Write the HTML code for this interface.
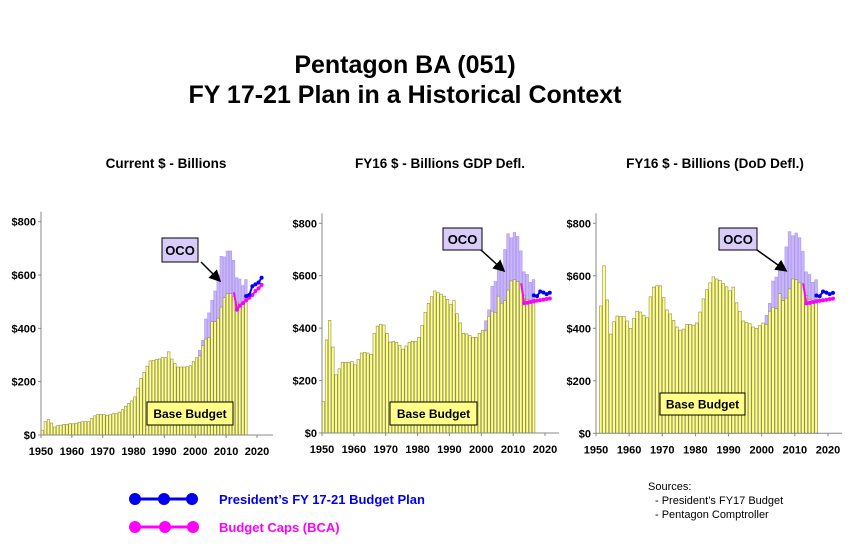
<!DOCTYPE html>
<html><head><meta charset="utf-8"><style>
html,body{margin:0;padding:0;background:#fff;}
body{width:855px;height:549px;overflow:hidden;font-family:"Liberation Sans",sans-serif;}
</style></head><body>
<svg width="855" height="549" viewBox="0 0 855 549" xmlns="http://www.w3.org/2000/svg" id="chart">
<defs><marker id="ah" markerWidth="8" markerHeight="8" refX="6" refY="4" orient="auto"><path d="M0,0 L8,4 L0,8 z" fill="#000"/></marker></defs>
<text x="405" y="73" text-anchor="middle" font-size="25" font-weight="bold">Pentagon BA (051)</text>
<text x="405" y="103" text-anchor="middle" font-size="25" font-weight="bold">FY 17-21 Plan in a Historical Context</text>
<g id="panels"></g>
<g>
<line x1="135" y1="499" x2="192" y2="499" stroke="#0000ee" stroke-width="3"/>
<circle cx="135" cy="499" r="6" fill="#0000ee"/><circle cx="164" cy="499" r="6" fill="#0000ee"/><circle cx="192" cy="499" r="6" fill="#0000ee"/>
<text x="219" y="504" font-size="13" font-weight="bold" fill="#0000ee">President’s FY 17-21 Budget Plan</text>
<line x1="135" y1="527" x2="193" y2="527" stroke="#ff00ff" stroke-width="3"/>
<circle cx="135" cy="527" r="6" fill="#ff00ff"/><circle cx="165" cy="527" r="6" fill="#ff00ff"/><circle cx="193" cy="527" r="6" fill="#ff00ff"/>
<text x="219" y="532" font-size="13" font-weight="bold" fill="#ff00ff">Budget Caps (BCA)</text>
</g>
<g font-size="11">
<text x="648" y="490">Sources:</text>
<text x="655" y="504">- President’s FY17 Budget</text>
<text x="655" y="518">- Pentagon Comptroller</text>
</g>
</svg>
<script>
const years = [];for(let y=1950;y<=2016;y++)years.push(y);
const ocoYears = [2001,2002,2003,2004,2005,2006,2007,2008,2009,2010,2011,2012,2013,2014,2015,2016];
const pbYears = [2016,2017,2018,2019,2020,2021];
const bcaYears = [2012,2013,2014,2015,2016,2017,2018,2019,2020,2021];
const xTicks = [1950,1960,1970,1980,1990,2000,2010,2020];
const yTicks = [0,200,400,600,800];
const yTickLabels = ["$0","$200","$400","$600","$800"];
const subtitles = ["Current $ - Billions","FY16 $ - Billions  GDP Defl.","FY16 $ - Billions (DoD Defl.)"];

const baseCurrent = [18,50,58,45,30,35,37,40,40,43,42,44,48,50,50,50,62,72,77,78,77,73,76,80,80,86,95,108,118,128,143,176,212,235,258,278,280,283,285,290,290,312,285,268,255,255,255,256,260,275,290,297,335,360,365,425,425,438,480,515,530,530,520,495,495,497,510];
const totalCurrent = [318,355,435,458,505,540,600,670,668,690,690,655,590,585,560,583];
const pbCurrent = [521,525,558,565,572,590];
const bcaCurrent = [535,470,485,495,505,515,525,540,550,563];

const baseGdp = [120,355,430,328,222,245,270,270,270,272,260,280,305,308,305,300,380,408,415,412,380,347,350,346,335,320,332,346,350,350,365,410,460,495,520,542,535,530,522,510,490,505,455,420,380,378,372,365,365,380,392,390,445,465,460,522,495,505,545,580,585,578,570,525,510,505,510];
const totalGdp = [428,470,560,578,620,640,700,760,745,765,750,695,615,605,575,585];
const pbGdp = [525,522,540,536,530,535];
const bcaGdp = [570,495,497,500,502,505,507,509,511,513];

const baseDod = [0,485,638,508,378,425,447,445,445,428,400,437,465,462,450,440,520,557,562,562,517,470,455,430,405,393,397,415,415,412,420,462,512,547,573,596,588,583,570,558,543,557,497,465,428,422,418,405,400,410,420,415,465,480,475,532,505,515,550,588,585,575,570,525,510,505,510];
const totalDod = [450,495,580,595,630,635,710,768,752,763,745,693,615,605,575,585];
const pbDod = [525,522,540,536,530,535];
const bcaDod = [570,495,497,500,502,505,507,509,511,513];

const NS="http://www.w3.org/2000/svg";
function mk(tag,attrs,parent){const e=document.createElementNS(NS,tag);for(const k in attrs)e.setAttribute(k,attrs[k]);parent.appendChild(e);return e;}
const panelsG=document.getElementById('panels');
const panels=[
 {ax:41,y0:435,y800:221.7,x1950:41,x2020:257,xEnd:273,sub:166,base:baseCurrent,tot:totalCurrent,pb:pbCurrent,bca:bcaCurrent,oco:[162,238,36,24,201,262,219,280],bb:[147,402,86,23]},
 {ax:322,y0:433,y800:223.3,x1950:322,x2020:545,xEnd:559,sub:440,base:baseGdp,tot:totalGdp,pb:pbGdp,bca:bcaGdp,oco:[443,228,39,22,481,250,503,270],bb:[390,402,87,23]},
 {ax:596,y0:433.3,y800:223.3,x1950:596,x2020:828,xEnd:842,sub:715,base:baseDod,tot:totalDod,pb:pbDod,bca:bcaDod,oco:[719,228,38,22,757,250,785,270],bb:[660,393,85,22]}
];
panels.forEach((p,pi)=>{
 const g=mk('g',{},panelsG);
 
 
 const sx=yr=>p.x1950+(yr-1950)*(p.x2020-p.x1950)/70;
 const sy=v=>p.y0-v*(p.y0-p.y800)/800;
 const bw=(p.x2020-p.x1950)/70;
 const st=mk('text',{x:p.sub,y:168,'text-anchor':'middle','font-size':'13.5','font-weight':'bold'},g);st.textContent=subtitles[pi];
 
 
 // oco bars
 ocoYears.forEach((yr,i)=>{
  const x=sx(yr)+ (yr-1950>=0?0:0);
  const r=mk('rect',{x:x,y:sy(p.tot[i]),width:bw-0.6,height:sy(0)-sy(p.tot[i]),fill:'#c9b6fa',stroke:'#a994ee','stroke-width':0.6},g);
  
  
 });
 years.forEach((yr,i)=>{
  const v=p.base[i];if(!v)return;
  const r=mk('rect',{x:sx(yr),y:sy(v),width:bw-0.6,height:sy(0)-sy(v),fill:'#ffff8a',stroke:'#8f8f50','stroke-width':0.6},g);
  
  
 });
 // axes
 mk('line',{x1:p.ax,y1:p.y0,x2:p.ax,y2:p.y800-10,stroke:'#888','stroke-width':1},g);
 mk('line',{x1:p.ax,y1:p.y0,x2:p.xEnd,y2:p.y0,stroke:'#888','stroke-width':1},g);
 yTicks.forEach((v,i)=>{
  mk('line',{x1:p.ax-3,y1:sy(v),x2:p.ax,y2:sy(v),stroke:'#888'},g);
  const t=mk('text',{x:p.ax-5,y:sy(v)+4,'text-anchor':'end','font-size':'11','font-weight':'bold'},g);t.textContent=yTickLabels[i];
  
  
 });
 xTicks.forEach(yr=>{
  mk('line',{x1:sx(yr),y1:p.y0,x2:sx(yr),y2:p.y0+3,stroke:'#888'},g);
  const t=mk('text',{x:sx(yr),y:p.y0+20,'text-anchor':'middle','font-size':'11','font-weight':'bold'},g);t.textContent=yr;
  
  
 });
 const line=(ys,vals,col,name)=>{
  const pts=ys.map((yr,i)=>(sx(yr)+bw/2)+','+sy(vals[i])).join(' ');
  const pl=mk('polyline',{points:pts,fill:'none',stroke:col,'stroke-width':2},g);
  
  
  ys.forEach((yr,i)=>{if(name==='bca-line'&&i===0)return;mk('circle',{cx:sx(yr)+bw/2,cy:sy(vals[i]),r:2,fill:col},g);});
 };
 line(bcaYears,p.bca,'#ff00ff','bca-line');
 line(pbYears,p.pb,'#0000ee','pb-line');
 const o=p.oco;
 const ob=mk('rect',{x:o[0],y:o[1],width:o[2],height:o[3],fill:'#d9ccfb',stroke:'#000','stroke-width':1},g);
 
 
 const ot=mk('text',{x:o[0]+o[2]/2,y:o[1]+o[3]/2+5,'text-anchor':'middle','font-size':'13','font-weight':'bold'},g);ot.textContent='OCO';
 mk('line',{x1:o[4],y1:o[5],x2:o[6],y2:o[7],stroke:'#000','stroke-width':1.5,'marker-end':'url(#ah)'},g);
 const b=p.bb;
 const bb=mk('rect',{x:b[0],y:b[1],width:b[2],height:b[3],fill:'#ffff8a',stroke:'#000','stroke-width':1},g);
 
 
 const bt=mk('text',{x:b[0]+b[2]/2,y:b[1]+b[3]/2+4.5,'text-anchor':'middle','font-size':'12','font-weight':'bold'},g);bt.textContent='Base Budget';
});
</script>
</body></html>
